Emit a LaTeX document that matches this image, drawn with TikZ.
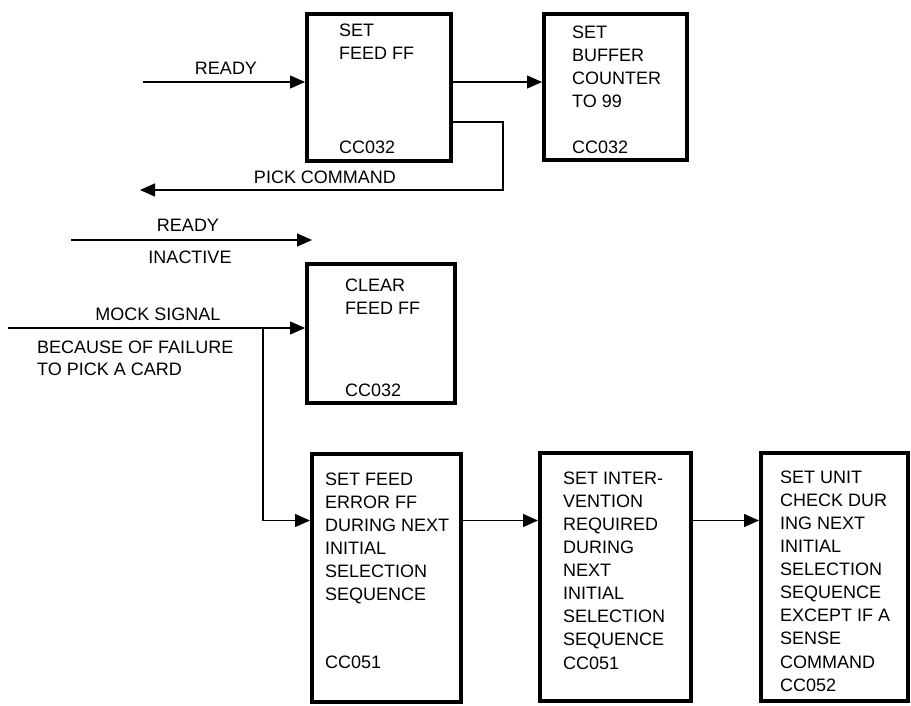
\documentclass[tikz,border=0pt]{standalone}
\usepackage{fontspec}
\setmainfont{Liberation Sans}
\usetikzlibrary{arrows.meta}
\begin{document}
\begin{tikzpicture}[x=1pt,y=-1pt,
  every node/.style={font=\fontsize{18}{23.1}\selectfont},
  blockbox/.style={draw,line width=4pt,inner sep=0pt,outer sep=0.5\pgflinewidth},
  boxtext/.style={anchor=north west,align=left,inner sep=0pt},
  lbl/.style={inner sep=0pt},
  conn/.style={line width=1.3pt,-{Triangle[length=15pt,width=13pt]}},
  plain/.style={line width=1.3pt}]
\useasboundingbox (0,0) rectangle (911,706);
% boxes
\node[blockbox,minimum width=144pt,minimum height=147pt] (b1) at (379,87.5) {};
\node[blockbox,minimum width=143pt,minimum height=146pt] (b2) at (615.5,87) {};
\node[blockbox,minimum width=148pt,minimum height=139pt] (b3) at (381,333.5) {};
\node[blockbox,minimum width=149pt,minimum height=248pt] (b4) at (386.5,578) {};
\node[blockbox,minimum width=151pt,minimum height=248pt] (b5) at (615.5,577) {};
\node[blockbox,minimum width=147pt,minimum height=248pt] (b6) at (834.5,577) {};
% box texts
\node[boxtext] (t1) at (339,23.5) {SET\\FEED FF};
\node[boxtext] (c1) at (339,140.5) {CC032};
\node[boxtext] (t2) at (572,25.5) {SET\\BUFFER\\COUNTER\\TO 99};
\node[boxtext] (c2) at (572,140.5) {CC032};
\node[boxtext] (t3) at (345,278.5) {CLEAR\\FEED FF};
\node[boxtext] (c3) at (345,383.5) {CC032};
\node[boxtext] (t4) at (325,472.5) {SET FEED\\ERROR FF\\DURING NEXT\\INITIAL\\SELECTION\\SEQUENCE};
\node[boxtext] (c4) at (325,655.5) {CC051};
\node[boxtext] (t5) at (563,471.5) {SET INTER-\\VENTION\\REQUIRED\\DURING\\NEXT\\INITIAL\\SELECTION\\SEQUENCE\\CC051};
\node[boxtext] (t6) at (780,470.5) {SET UNIT\\CHECK DUR\\ING NEXT\\INITIAL\\SELECTION\\SEQUENCE\\EXCEPT IF A\\SENSE\\COMMAND\\CC052};
% labels
\node[lbl] (l1) at (226,68) {READY};
\node[lbl] (l2) at (325,177) {PICK COMMAND};
\node[lbl] (l3) at (188,225) {READY};
\node[lbl] (l4) at (190,257) {INACTIVE};
\node[lbl] (l5) at (158,314) {MOCK SIGNAL};
\node[boxtext] (l6) at (37,340.5) {BECAUSE OF FAILURE\\[-1pt]TO PICK A CARD};
% coordinates
\coordinate (r1) at (143,82);
\coordinate (pk1) at (503,122);
\coordinate (pk2) at (503,190);
\coordinate (pke) at (140,190);
\coordinate (r2a) at (71,240);
\coordinate (r2b) at (312,240);
\coordinate (m0) at (8,328);
\coordinate (br) at (263,328);
\coordinate (br2) at (263,520.5);
% connectors
\draw[conn] (r1) -- (r1 -| b1.west);
\draw[conn] (r1 -| b1.east) -- (r1 -| b2.west);
\draw[conn] (pk1 -| b1.east) -- (pk1) -- (pk2) -- (pke);
\draw[conn] (r2a) -- (r2b);
\draw[conn] (m0) -- (m0 -| b3.west);
\draw[conn] (br) -- (br2) -- (br2 -| b4.west);
\draw[conn] (br2 -| b4.east) -- (br2 -| b5.west);
\draw[conn] (br2 -| b5.east) -- (br2 -| b6.west);
\end{tikzpicture}
\end{document}
